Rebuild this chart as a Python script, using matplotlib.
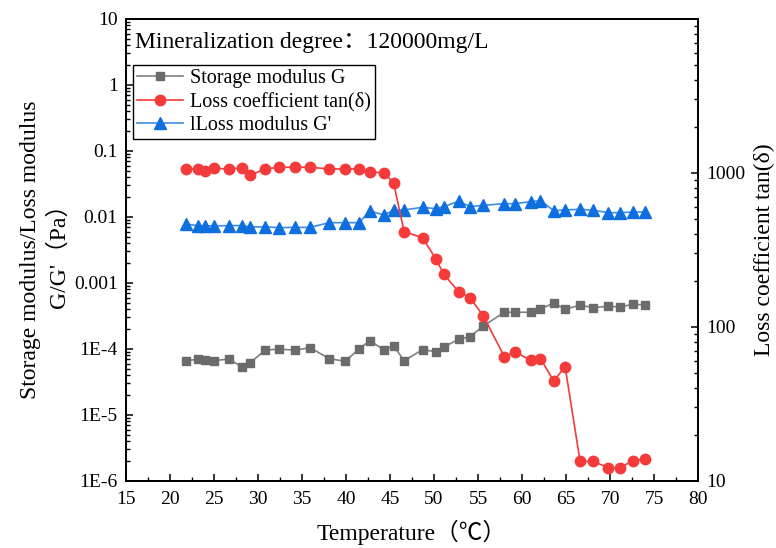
import matplotlib
matplotlib.use('Agg')
import matplotlib.pyplot as plt
from matplotlib.ticker import FixedLocator, FixedFormatter, LogLocator, NullFormatter
from matplotlib.lines import Line2D

plt.rcParams['font.family'] = ['Liberation Serif', 'Noto Sans CJK SC', 'DejaVu Sans']
plt.rcParams['mathtext.fontset'] = 'stix'

# temperature (C), shared by all three series
temp = [21.8, 23.2, 24.0, 25.0, 26.7, 28.2, 29.1, 30.8, 32.4, 34.2, 35.9, 38.1,
        39.9, 41.5, 42.7, 44.3, 45.4, 46.6, 48.7, 50.2, 51.1, 52.8, 54.1, 55.6,
        58.0, 59.2, 61.0, 62.1, 63.6, 64.9, 66.6, 68.1, 69.8, 71.1, 72.6, 74.0]

# storage modulus G (Pa), left axis
storage = [6.65e-5, 6.98e-5, 6.81e-5, 6.65e-5, 7.05e-5, 5.33e-5, 6.19e-5, 9.55e-5,
           1.0e-4, 9.55e-5, 1.05e-4, 7.13e-5, 6.52e-5, 1.0e-4, 1.34e-4, 9.66e-5,
           1.12e-4, 6.65e-5, 9.76e-5, 9.1e-5, 1.07e-4, 1.40e-4, 1.54e-4, 2.23e-4,
           3.6e-4, 3.6e-4, 3.6e-4, 4.08e-4, 4.92e-4, 4.03e-4, 4.59e-4, 4.23e-4,
           4.44e-4, 4.33e-4, 4.75e-4, 4.65e-4]

# loss modulus G' (Pa), left axis
loss_mod = [0.00783, 0.00738, 0.00738, 0.00731, 0.0074, 0.0074, 0.00705, 0.0071,
            0.00689, 0.00695, 0.00695, 0.0082, 0.0082, 0.0082, 0.01233, 0.0107,
            0.01264, 0.01277, 0.01403, 0.01336, 0.01432, 0.0173, 0.01432, 0.01503,
            0.0159, 0.0159, 0.01706, 0.01767, 0.01245, 0.01277, 0.01309, 0.01264,
            0.01161, 0.01161, 0.0119, 0.0119]

# loss coefficient tan(delta), right axis
tan_d = [1062, 1062, 1035, 1073, 1062, 1080, 966, 1062, 1089, 1089, 1089, 1062,
         1062, 1062, 1014, 1003, 865, 416, 380, 277, 221, 169, 155, 118,
         64.1, 68.8, 60.8, 62.3, 44.6, 55.2, 13.4, 13.4, 12.2, 12.2, 13.5, 13.9]

left_ticks = [1e-6, 1e-5, 1e-4, 1e-3, 1e-2, 1e-1, 1, 10]
left_labels = ['1E-6', '1E-5', '1E-4', '0.001', '0.01', '0.1', '1', '10']
right_ticks = [10, 100, 1000]
right_labels = ['10', '100', '1000']

c_gray = '#6b6b6b'
c_red = '#f43a3a'
c_blue = '#0f6fde'

fig = plt.figure(figsize=(7.76, 5.48), dpi=100)
ax = fig.add_axes([0.1624, 0.1223, 0.7371, 0.8431])
ax2 = ax.twinx()

ax.plot(temp, storage, color='#808080', lw=1.2, marker='s', ms=6,
        mfc=c_gray, mec=c_gray)
ax.plot(temp, loss_mod, color='#3d8ce8', lw=1.2, marker='^', ms=8,
        mfc=c_blue, mec=c_blue)
ax2.plot(temp, tan_d, color=c_red, lw=1.2, marker='o', ms=7.5,
         mfc=c_red, mec=c_red)

ax.set_xlim(15, 80)
ax.set_xticks(range(15, 81, 5))
ax.set_xticks([x + 2.5 for x in range(15, 80, 5)], minor=True)

ax.set_yscale('log')
ax.set_ylim(1e-6, 10)
ax.yaxis.set_major_locator(FixedLocator(left_ticks))
ax.yaxis.set_major_formatter(FixedFormatter(left_labels))
ax.yaxis.set_minor_locator(LogLocator(base=10, subs=range(2, 10), numticks=20))
ax.yaxis.set_minor_formatter(NullFormatter())

ax2.set_yscale('log')
ax2.set_ylim(10, 10000)
ax2.yaxis.set_major_locator(FixedLocator(right_ticks + [10000]))
ax2.yaxis.set_major_formatter(FixedFormatter(right_labels + ['']))
ax2.yaxis.set_minor_locator(LogLocator(base=10, subs=range(2, 10), numticks=20))
ax2.yaxis.set_minor_formatter(NullFormatter())

for a in (ax, ax2):
    for sp in a.spines.values():
        sp.set_linewidth(1.3)
    a.tick_params(which='major', direction='in', length=5, width=1.1, labelsize=14)
    a.tick_params(which='minor', direction='in', length=3, width=1.0)
ax.tick_params(axis='x', top=False, pad=7)
ax.tick_params(axis='y', which='both', right=False, pad=6)
ax2.tick_params(axis='y', which='both', left=False, pad=6)

ax.set_xlabel('Temperature（℃）', fontsize=17, labelpad=9)
ax.set_ylabel("Storage modulus/Loss modulus\nG/G'（Pa）", fontsize=17, labelpad=3,
              linespacing=1.35)
ax2.set_ylabel('Loss coefficient tan(δ)', fontsize=17, labelpad=6)

ax.text(0.016, 0.948, 'Mineralization degree：120000mg/L', transform=ax.transAxes,
        fontsize=17, ha='left', va='center')

handles = [
    Line2D([], [], color='#808080', lw=1.2, marker='s', ms=6, mfc=c_gray, mec=c_gray),
    Line2D([], [], color=c_red, lw=1.2, marker='o', ms=7.5, mfc=c_red, mec=c_red),
    Line2D([], [], color='#3d8ce8', lw=1.2, marker='^', ms=8, mfc=c_blue, mec=c_blue),
]
names = ['Storage modulus G', 'Loss coefficient tan(δ)', "lLoss modulus G'"]
leg = ax2.legend(handles, names, loc='upper left', bbox_to_anchor=(0.012, 0.9004),
                 borderaxespad=0, fontsize=14.5, fancybox=False, edgecolor='black',
                 framealpha=1, handlelength=2.3, handletextpad=0.35,
                 labelspacing=0.2, borderpad=0.2)
leg.get_frame().set_linewidth(1.0)

fig.savefig('out.png', dpi=100)
